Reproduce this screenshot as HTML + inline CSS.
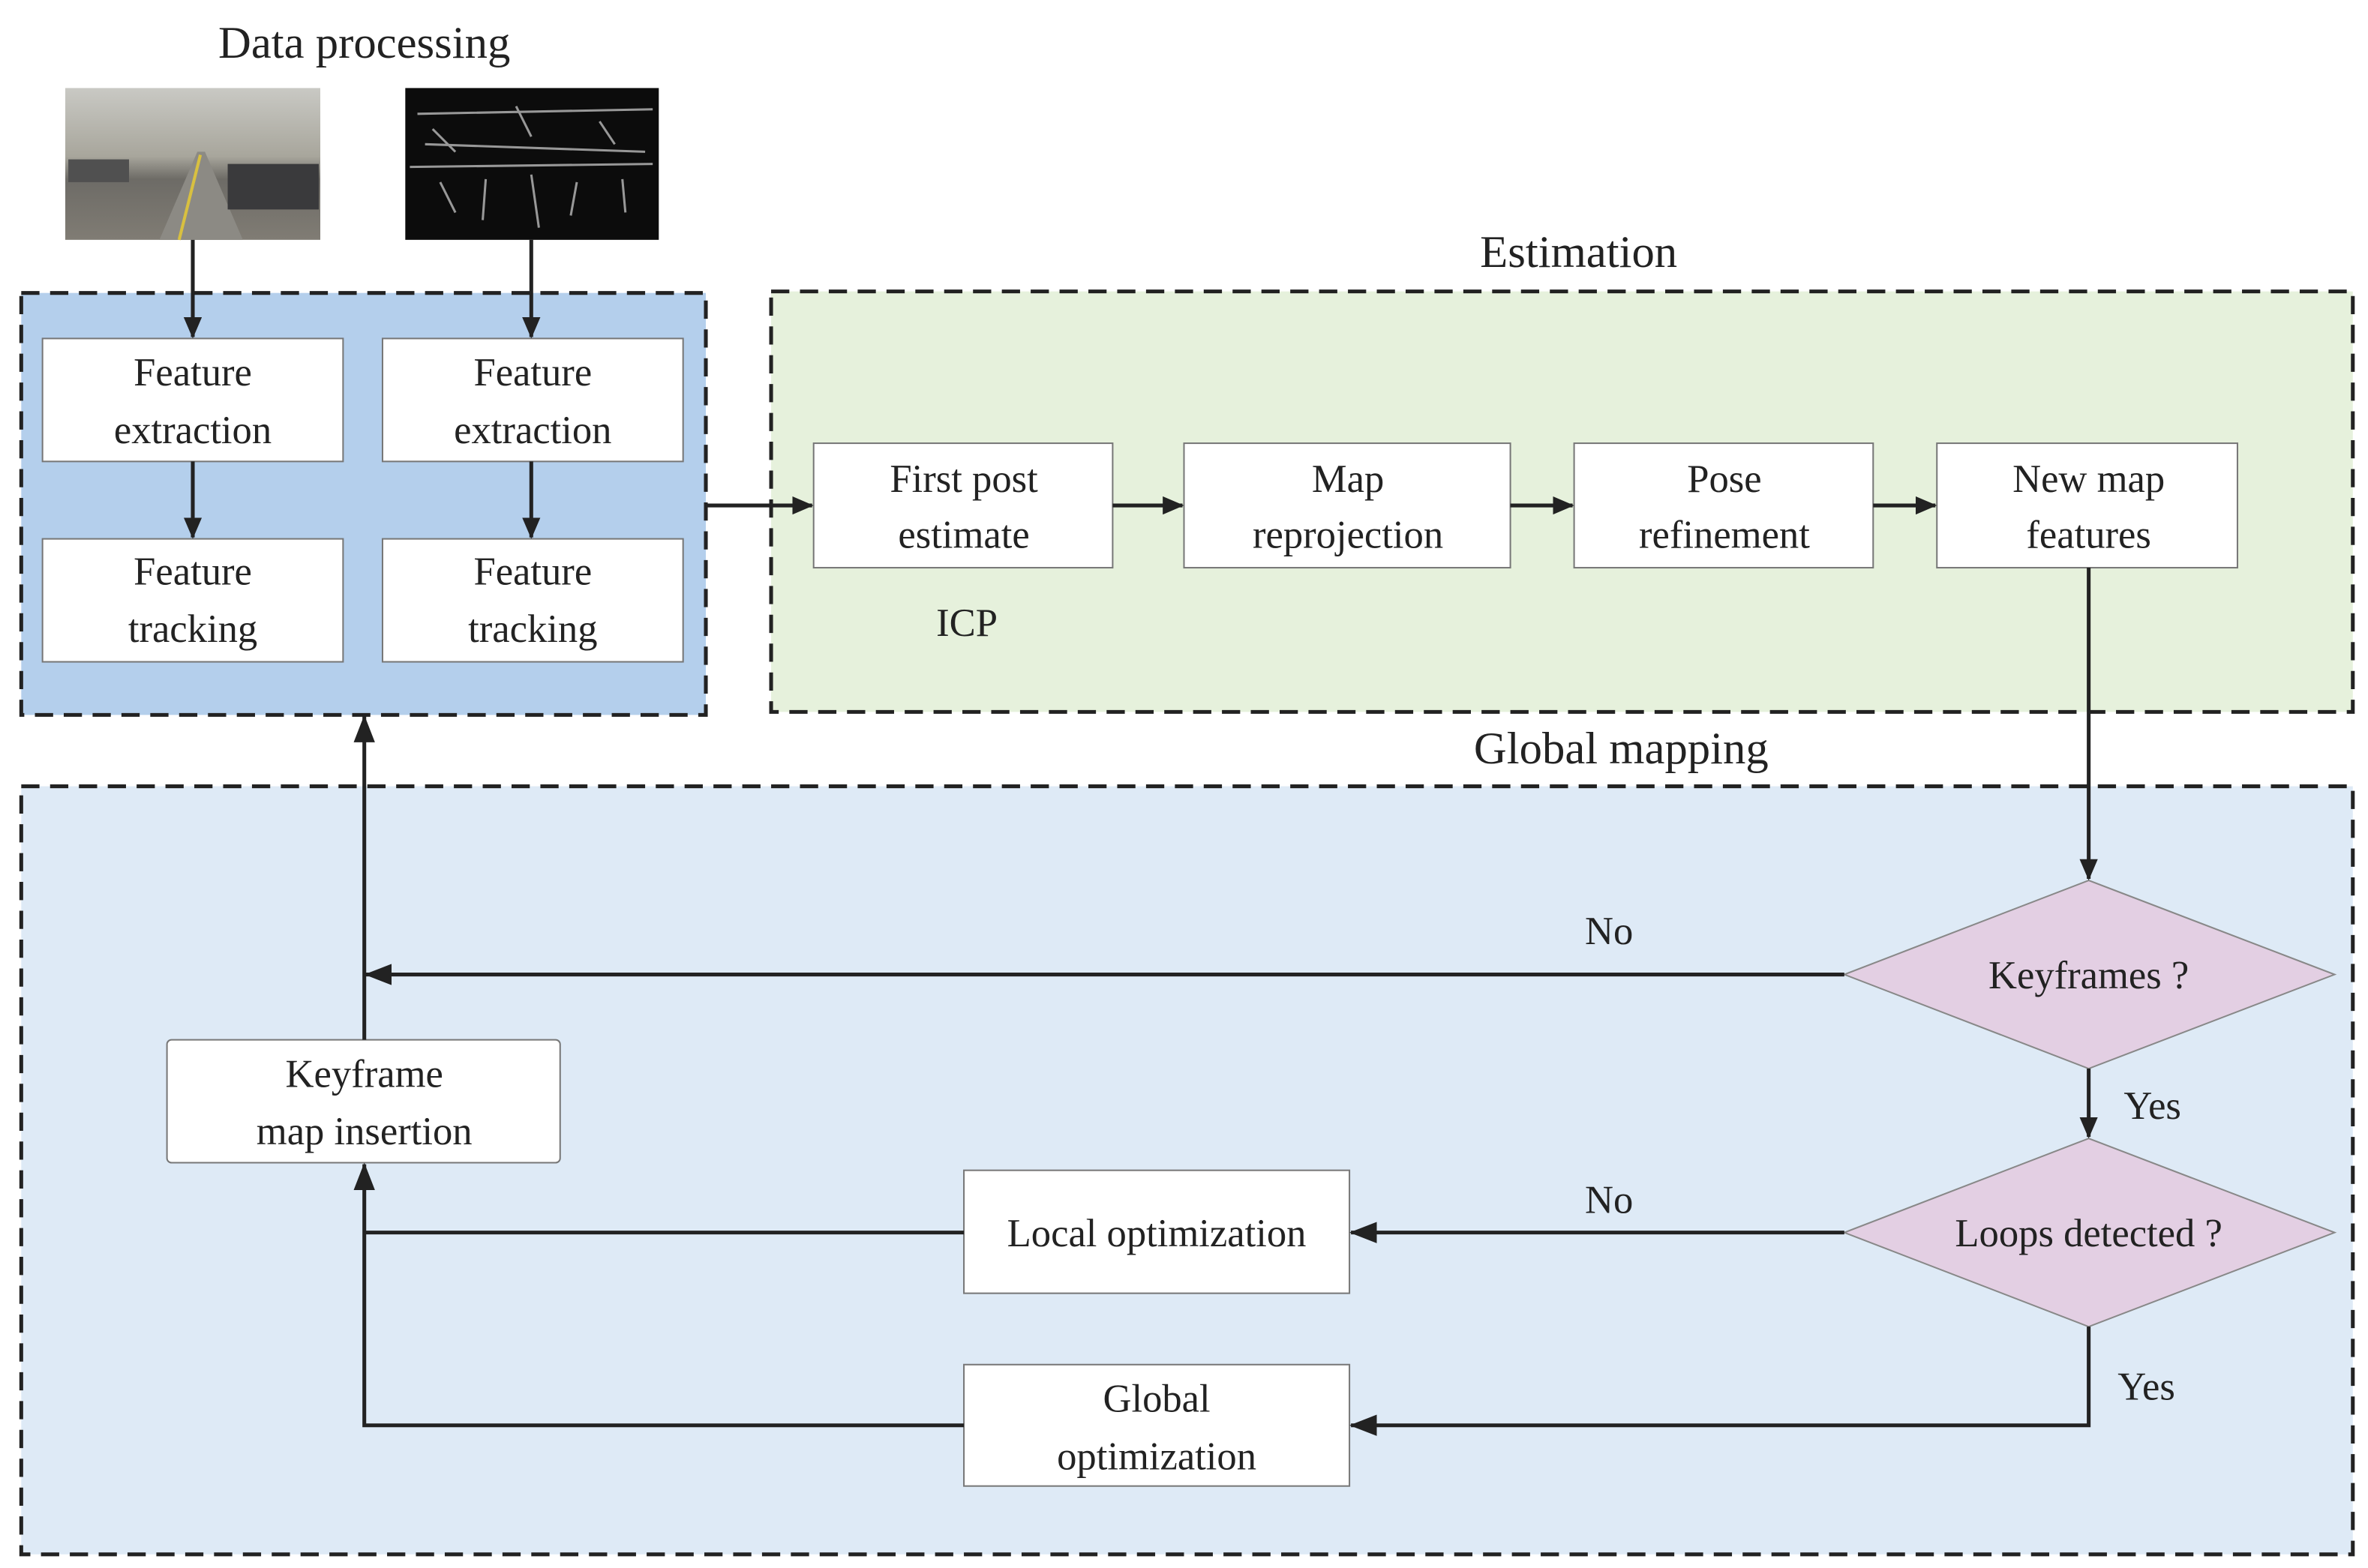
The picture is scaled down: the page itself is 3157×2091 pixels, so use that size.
<!DOCTYPE html>
<html><head><meta charset="utf-8"><style>html,body{margin:0;padding:0;background:#fff}svg{display:block}</style></head>
<body>
<svg width="3157" height="2091" viewBox="0 0 1560 1033" preserveAspectRatio="none" xmlns="http://www.w3.org/2000/svg" font-family="Liberation Serif, serif" font-size="26" fill="#222">
<defs>
<marker id="a" markerWidth="14" markerHeight="12" refX="13" refY="6" orient="auto" markerUnits="userSpaceOnUse"><path d="M0,0 L14,6 L0,12 Z" fill="#222"/></marker>
<marker id="b" markerWidth="18" markerHeight="14" refX="17" refY="7" orient="auto" markerUnits="userSpaceOnUse"><path d="M0,0 L18,7 L0,14 Z" fill="#222"/></marker>
<linearGradient id="sky" x1="0" y1="0" x2="0" y2="1"><stop offset="0" stop-color="#c9c9c4"/><stop offset="0.45" stop-color="#a8a69c"/><stop offset="0.6" stop-color="#6d6b66"/><stop offset="1" stop-color="#807c74"/></linearGradient>
</defs>
<text x="240" y="38" text-anchor="middle" font-size="30">Data processing</text>
<rect x="43" y="58" width="168" height="100" fill="url(#sky)"/>
<polygon points="105,158 130,100 135,100 160,158" fill="#8c8a84"/>
<line x1="132" y1="102" x2="118" y2="158" stroke="#d8c040" stroke-width="2"/>
<rect x="150" y="108" width="60" height="30" fill="#3a3a3c"/>
<rect x="45" y="105" width="40" height="15" fill="#505050"/>
<rect x="267" y="58" width="167" height="100" fill="#0c0c0c"/>
<g stroke="#bbb" stroke-width="1.5" opacity="0.8">
<path d="M275,75 L430,72 M280,95 L425,100 M270,110 L430,108 M290,120 L300,140 M320,118 L318,145 M350,115 L355,150 M380,120 L376,142 M410,118 L412,140 M285,85 L300,100 M340,70 L350,90 M395,80 L405,95"/>
</g>
<rect x="14" y="193" width="451" height="278" fill="#b4cfec" stroke="#222" stroke-width="2.5" stroke-dasharray="12,7"/>
<rect x="508" y="192" width="1042" height="277" fill="#e6f1dc" stroke="#222" stroke-width="2.5" stroke-dasharray="12,7"/>
<rect x="14" y="518" width="1536" height="506" fill="#deeaf6" stroke="#222" stroke-width="2.5" stroke-dasharray="12,7"/>
<text x="1040" y="176" text-anchor="middle" font-size="30">Estimation</text>
<text x="1068" y="503" text-anchor="middle" font-size="30">Global mapping</text>
<g fill="#fff" stroke="#777" stroke-width="1">
<rect x="28" y="223" width="198" height="81"/><rect x="252" y="223" width="198" height="81"/>
<rect x="28" y="355" width="198" height="81"/><rect x="252" y="355" width="198" height="81"/>
<rect x="536" y="292" width="197" height="82"/><rect x="780" y="292" width="215" height="82"/>
<rect x="1037" y="292" width="197" height="82"/><rect x="1276" y="292" width="198" height="82"/>
<rect x="110" y="685" width="259" height="81" rx="3"/>
<rect x="635" y="771" width="254" height="81"/><rect x="635" y="899" width="254" height="80"/>
</g>
<g fill="#e3cfe3" stroke="#888" stroke-width="1">
<polygon points="1376,580 1538,642 1376,704 1215,642"/>
<polygon points="1376,750 1538,812 1376,874 1215,812"/>
</g>
<g text-anchor="middle">
<text x="127" y="254">Feature</text><text x="127" y="292">extraction</text>
<text x="351" y="254">Feature</text><text x="351" y="292">extraction</text>
<text x="127" y="385">Feature</text><text x="127" y="423">tracking</text>
<text x="351" y="385">Feature</text><text x="351" y="423">tracking</text>
<text x="635" y="324">First post</text><text x="635" y="361">estimate</text>
<text x="888" y="324">Map</text><text x="888" y="361">reprojection</text>
<text x="1136" y="324">Pose</text><text x="1136" y="361">refinement</text>
<text x="1376" y="324">New map</text><text x="1376" y="361">features</text>
<text x="637" y="419">ICP</text>
<text x="240" y="716">Keyframe</text><text x="240" y="754">map insertion</text>
<text x="762" y="821">Local optimization</text>
<text x="762" y="930">Global</text><text x="762" y="968">optimization</text>
<text x="1376" y="651">Keyframes ?</text>
<text x="1376" y="821">Loops detected ?</text>
<text x="1060" y="622">No</text><text x="1060" y="799">No</text>
<text x="1418" y="737">Yes</text><text x="1414" y="922">Yes</text>
</g>
<g stroke="#222" stroke-width="2.5" fill="none">
<line x1="127" y1="158" x2="127" y2="222" marker-end="url(#a)"/>
<line x1="350" y1="158" x2="350" y2="222" marker-end="url(#a)"/>
<line x1="127" y1="304" x2="127" y2="354" marker-end="url(#a)"/>
<line x1="350" y1="304" x2="350" y2="354" marker-end="url(#a)"/>
<line x1="465" y1="333" x2="535" y2="333" marker-end="url(#a)"/>
<line x1="733" y1="333" x2="779" y2="333" marker-end="url(#a)"/>
<line x1="995" y1="333" x2="1036" y2="333" marker-end="url(#a)"/>
<line x1="1234" y1="333" x2="1275" y2="333" marker-end="url(#a)"/>
<line x1="1376" y1="374" x2="1376" y2="579" marker-end="url(#a)"/>
<line x1="1215" y1="642" x2="241" y2="642" marker-end="url(#b)"/>
<line x1="240" y1="685" x2="240" y2="472" marker-end="url(#b)"/>
<line x1="1376" y1="704" x2="1376" y2="749" marker-end="url(#a)"/>
<line x1="1215" y1="812" x2="890" y2="812" marker-end="url(#b)"/>
<polyline points="635,812 240,812"/>
<polyline points="635,939 240,939 240,767" marker-end="url(#b)"/>
<polyline points="1376,874 1376,939 890,939" marker-end="url(#b)"/>
</g>
</svg>
</body></html>
